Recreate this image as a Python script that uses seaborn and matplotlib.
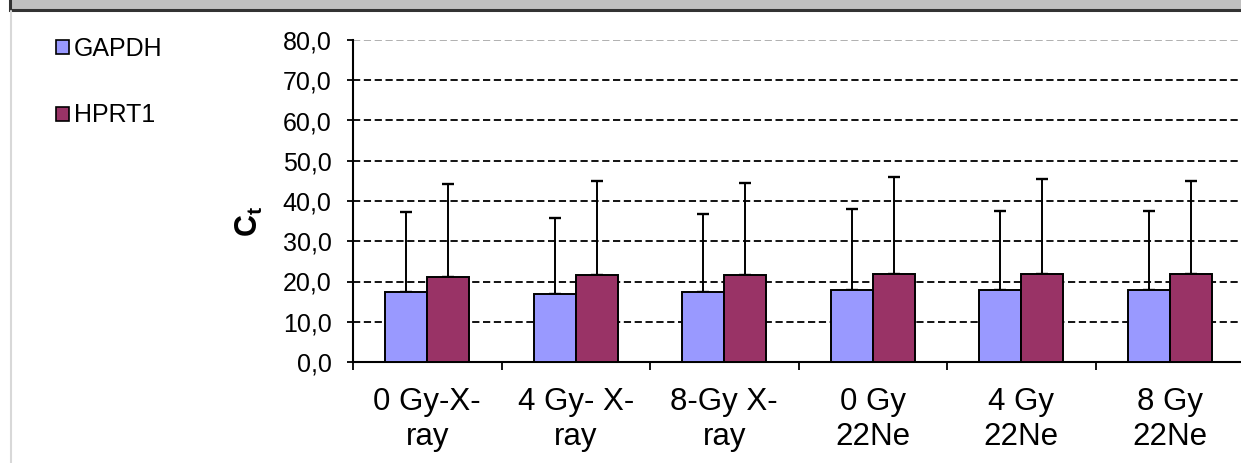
import numpy as np
import pandas as pd
import matplotlib
matplotlib.use("Agg")
import matplotlib.pyplot as plt
import seaborn as sns
from matplotlib.patches import Rectangle, Patch
from matplotlib.lines import Line2D
from matplotlib.ticker import FuncFormatter, FixedLocator

# ---- data ----
categories = ["0 Gy-X-\nray", "4 Gy- X-\nray", "8-Gy X-\nray",
              "0 Gy\n22Ne", "4 Gy\n22Ne", "8 Gy\n22Ne"]
genes = ["GAPDH", "HPRT1"]
gapdh_ct = [17.5, 17.0, 17.5, 18.0, 18.0, 18.0]
hprt1_ct = [21.0, 21.5, 21.5, 21.9, 21.9, 21.9]
gapdh_err = [19.8, 18.7, 19.2, 20.1, 19.6, 19.6]
hprt1_err = [23.1, 23.5, 22.9, 24.1, 23.6, 23.1]
y_ticks = [0, 10, 20, 30, 40, 50, 60, 70, 80]
colors = ["#9999FF", "#993366"]

df = pd.DataFrame({
    "cond": categories * 2,
    "gene": [genes[0]] * len(categories) + [genes[1]] * len(categories),
    "ct": gapdh_ct + hprt1_ct,
})
errs = {genes[0]: gapdh_err, genes[1]: hprt1_err}

sns.set_style("white")
plt.rcParams["font.family"] = ["Liberation Sans", "DejaVu Sans"]
plt.rcParams["text.color"] = "black"
plt.rcParams["xtick.color"] = "black"
plt.rcParams["ytick.color"] = "black"
plt.rcParams["axes.labelcolor"] = "black"
plt.rcParams["mathtext.fontset"] = "custom"
plt.rcParams["mathtext.rm"] = "Liberation Sans"
plt.rcParams["mathtext.bf"] = "Liberation Sans:bold"
plt.rcParams["mathtext.it"] = "Liberation Sans:italic"

W, H = 1241, 463
fig = plt.figure(figsize=(W / 100, H / 100), dpi=100)
fig.patch.set_facecolor("white")

left, right, bottom, top = 353, 1244, 362, 40
ax = fig.add_axes([left / W, 1 - bottom / H, (right - left) / W, (bottom - top) / H])

sns.barplot(data=df, x="cond", y="ct", hue="gene", hue_order=genes,
            order=categories, palette=colors, saturation=1, width=0.566,
            gap=0, edgecolor="black", linewidth=1.4, errorbar=None,
            legend=False, ax=ax, zorder=3)

for cont, g in zip(ax.containers, genes):
    xs = [p.get_x() + p.get_width() / 2 for p in cont.patches]
    hs = [p.get_height() for p in cont.patches]
    e = errs[g]
    ax.errorbar(xs, hs, yerr=[np.zeros(len(e)), e], fmt="none",
                ecolor="black", elinewidth=1.4, capsize=4.2, capthick=1.7,
                zorder=2)

ax.set_xlim(-0.5, len(categories) - 0.5)
ax.set_ylim(0, 80)
ax.set_yticks(y_ticks)
ax.yaxis.set_major_formatter(FuncFormatter(lambda v, p: f"{v:.1f}".replace(".", ",")))
ax.set_axisbelow(True)
ax.yaxis.grid(True, linestyle=(0, (4, 2)), color="black", linewidth=1.3)
gl = ax.get_ygridlines()
gl[0].set_visible(False)
gl[-1].set_color("#aaaaaa")
ax.xaxis.grid(False)

for s in ["top", "right"]:
    ax.spines[s].set_visible(False)
for s in ["left", "bottom"]:
    ax.spines[s].set_color("black")
    ax.spines[s].set_linewidth(1.5)

ax.tick_params(axis="y", which="major", direction="out", length=4.5, width=1.3,
               color="black", labelcolor="black", left=True, pad=11, labelsize=18)
ax.xaxis.set_minor_locator(FixedLocator(np.arange(-0.5, len(categories), 1.0)))
ax.tick_params(axis="x", which="minor", direction="out", length=5.5, width=1.3,
               color="black", bottom=True)
ax.tick_params(axis="x", which="major", length=0, pad=18, labelsize=22.5,
               labelcolor="black")
for t in ax.get_xticklabels():
    t.set_linespacing(1.2)
ax.set_xlabel("")
ax.set_ylabel("")

fig.text(249 / W, 1 - 221 / H, r"$\mathbf{C_t}$", rotation=90,
         ha="center", va="center", fontsize=22, color="black")

handles = [Patch(facecolor=c, edgecolor="black", linewidth=1.2) for c in colors]
fig.legend(handles, genes, loc="upper left", bbox_to_anchor=(56 / W, 1 - 37 / H),
           frameon=False, fontsize=18, handlelength=0.5, handleheight=0.5,
           handletextpad=0.2, labelspacing=1.7, borderpad=0, borderaxespad=0,
           labelcolor="black")

# top banner and left frame
fig.add_artist(Rectangle((10 / W, 1 - 9.5 / H), 1.2, 0.2, transform=fig.transFigure,
                         facecolor="#c0c0c0", edgecolor="#333333", linewidth=2.2,
                         clip_on=False))
fig.add_artist(Line2D([10.5 / W, 10.5 / W], [0, 1 - 11 / H], transform=fig.transFigure,
                      color="#d8d8d8", linewidth=1.5))

fig.savefig("out.png", dpi=100)
